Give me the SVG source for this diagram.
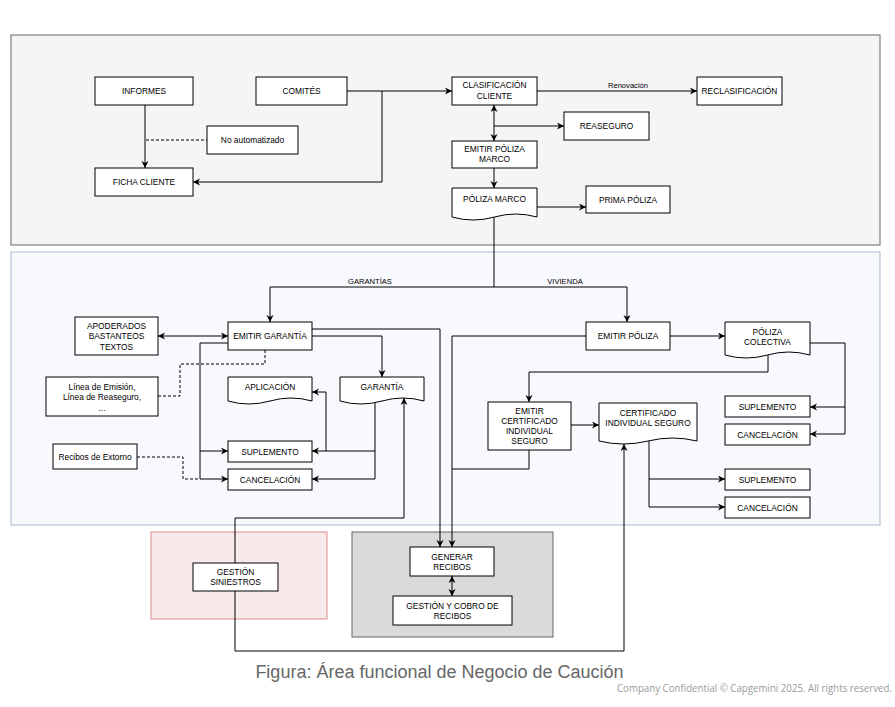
<svg xmlns="http://www.w3.org/2000/svg" width="895" height="707" viewBox="0 0 895 707">
<style>
.n rect,.n path{fill:#fff;stroke:#000;stroke-width:1}
.t{font-family:"Liberation Sans",Arial,Helvetica,sans-serif;font-size:8.4px;text-anchor:middle;fill:#000}
.l{font-family:"Liberation Sans",Arial,Helvetica,sans-serif;font-size:7.6px;text-anchor:middle;fill:#000}
#connectors path{fill:none;stroke:#000;stroke-width:1}
#connectors path.d{stroke-dasharray:3 2}
.a{marker-end:url(#arr)}
.b{marker-start:url(#arr);marker-end:url(#arr)}
</style>
<defs>
<marker id="arr" markerUnits="userSpaceOnUse" markerWidth="8" markerHeight="8" refX="7" refY="3.5" orient="auto-start-reverse">
<path d="M0,0 L7,3.5 L0,7 L2,3.5 Z" fill="#000"/>
</marker>
</defs>
<rect width="895" height="707" fill="#fff"/>
<g id="panels">
<rect x="11" y="35" width="869" height="210" fill="#f5f5f5" stroke="#666"/>
<rect x="11" y="252" width="869" height="273" fill="#f8f9fc" stroke="#a9b8d2"/>
<rect x="151" y="532" width="176" height="87" fill="#f8eaea" stroke="#d98e8e"/>
<rect x="352" y="532" width="201" height="105" fill="#dadada" stroke="#666"/>
</g>
<g id="connectors">
<path class="a" d="M145,105 V168"/>
<path class="d" d="M146,140 H207"/>
<path class="a" d="M347,91 H452"/>
<path class="a" d="M382,91 V182 H193"/>
<path class="a" d="M537,91 H697"/>
<path class="b" d="M494,105 V141"/>
<path class="a" d="M494,126 H564"/>
<path class="a" d="M494,168 V188"/>
<path class="a" d="M537,207 H586"/>
<path class="a" d="M494,217 V287 H270 V322"/>
<path class="a" d="M494,287 H627 V322"/>
<path class="b" d="M158,336 H228"/>
<path class="d" d="M265,350 V364 H180 V396 H158"/>
<path class="a" d="M312,336 H382 V377"/>
<path class="a" d="M312,329 H440 V547"/>
<path class="a" d="M228,343 H200 V479 H228"/>
<path class="a" d="M200,451 H228"/>
<path class="d" d="M137,457 H183 V479 H200"/>
<path class="a" d="M375,402 V479 H312"/>
<path class="a" d="M375,451 H312"/>
<path class="a" d="M326,451 V392 H312"/>
<path class="a" d="M235,563 V518 H404 V398"/>
<path class="a" d="M235,591 V651 H624 V444"/>
<path class="a" d="M670,336 H725"/>
<path class="a" d="M586,336 H452 V547"/>
<path class="a" d="M768,355 V372 H529 V402"/>
<path class="a" d="M810,343 H845 V434 H810"/>
<path class="a" d="M845,407 H810"/>
<path class="a" d="M571,425 H599"/>
<path d="M529,450 V469 H452"/>
<path class="a" d="M649,441 V507 H725"/>
<path class="a" d="M649,479 H725"/>
<path class="b" d="M452,576 V596"/>
<text class="l" x="628" y="87.5">Renovación</text>
<text class="l" x="370" y="283.5">GARANTÍAS</text>
<text class="l" x="565" y="283.5">VIVIENDA</text>
</g>
<g id="informes" class="n"><rect x="95" y="77" width="98" height="28"/><text class="t" x="144" y="94">INFORMES</text></g>
<g id="comites" class="n"><rect x="256" y="77" width="91" height="28"/><text class="t" x="301.5" y="94">COMITÉS</text></g>
<g id="no-automatizado" class="n"><rect x="207" y="126" width="91" height="28"/><text class="t" x="252.5" y="143">No automatizado</text></g>
<g id="ficha-cliente" class="n"><rect x="95" y="168" width="98" height="28"/><text class="t" x="144" y="185">FICHA CLIENTE</text></g>
<g id="clasificacion" class="n"><rect x="452" y="77" width="85" height="28"/><text class="t" x="494.5" y="88">CLASIFICACIÓN</text><text class="t" x="494.5" y="98.5">CLIENTE</text></g>
<g id="reclasificacion" class="n"><rect x="697" y="77" width="85" height="28"/><text class="t" x="739.5" y="94">RECLASIFICACIÓN</text></g>
<g id="reaseguro" class="n"><rect x="564" y="112" width="85" height="28"/><text class="t" x="606.5" y="129">REASEGURO</text></g>
<g id="emitir-poliza-marco" class="n"><rect x="452" y="141" width="85" height="27"/><text class="t" x="494.5" y="151.5">EMITIR PÓLIZA</text><text class="t" x="494.5" y="162">MARCO</text></g>
<g id="poliza-marco" class="n"><path d="M452,188 H537 V217 Q515.75,211 494.5,217 Q473.25,223 452,217 Z"/><text class="t" x="494.5" y="201.5">PÓLIZA MARCO</text></g>
<g id="prima-poliza" class="n"><rect x="586" y="186" width="84" height="27"/><text class="t" x="628" y="203">PRIMA PÓLIZA</text></g>
<g id="apoderados" class="n"><rect x="75" y="317" width="83" height="38"/><text class="t" x="116.5" y="329">APODERADOS</text><text class="t" x="116.5" y="339.3">BASTANTEOS</text><text class="t" x="116.5" y="349.7">TEXTOS</text></g>
<g id="emitir-garantia" class="n"><rect x="228" y="322" width="84" height="28"/><text class="t" x="270" y="339">EMITIR GARANTÍA</text></g>
<g id="lineas" class="n"><rect x="46" y="377" width="112" height="39"/><text class="t" x="102" y="389.7">Línea de Emisión,</text><text class="t" x="102" y="399.7">Línea de Reaseguro,</text><text class="t" x="102" y="411">...</text></g>
<g id="aplicacion" class="n"><path d="M228,377 H312 V401 Q291,395 270,401 Q249,407 228,401 Z"/><text class="t" x="270" y="389.7">APLICACIÓN</text></g>
<g id="garantia" class="n"><path d="M340,377 H424 V401 Q403,395 382,401 Q361,407 340,401 Z"/><text class="t" x="382" y="389.7">GARANTÍA</text></g>
<g id="suplemento-g" class="n"><rect x="228" y="441" width="84" height="21"/><text class="t" x="270" y="454.5">SUPLEMENTO</text></g>
<g id="cancelacion-g" class="n"><rect x="228" y="469" width="84" height="21"/><text class="t" x="270" y="482.5">CANCELACIÓN</text></g>
<g id="recibos-extorno" class="n"><rect x="53" y="444" width="84" height="25"/><text class="t" x="95" y="459.5">Recibos de Extorno</text></g>
<g id="emitir-poliza" class="n"><rect x="586" y="322" width="84" height="28"/><text class="t" x="628" y="339">EMITIR PÓLIZA</text></g>
<g id="poliza-colectiva" class="n"><path d="M725,322 H810 V355 Q788.75,349 767.5,355 Q746.25,361 725,355 Z"/><text class="t" x="767.5" y="334.7">PÓLIZA</text><text class="t" x="767.5" y="344.7">COLECTIVA</text></g>
<g id="suplemento-pc" class="n"><rect x="725" y="396" width="85" height="21"/><text class="t" x="767.5" y="409.5">SUPLEMENTO</text></g>
<g id="cancelacion-pc" class="n"><rect x="725" y="424" width="85" height="21"/><text class="t" x="767.5" y="437.5">CANCELACIÓN</text></g>
<g id="emitir-certificado" class="n"><rect x="488" y="402" width="83" height="48"/><text class="t" x="529.5" y="414">EMITIR</text><text class="t" x="529.5" y="424">CERTIFICADO</text><text class="t" x="529.5" y="434">INDIVIDUAL</text><text class="t" x="529.5" y="444">SEGURO</text></g>
<g id="certificado" class="n"><path d="M599,403 H697 V441 Q672.5,435 648,441 Q623.5,447 599,441 Z"/><text class="t" x="648" y="416">CERTIFICADO</text><text class="t" x="648" y="426">INDIVIDUAL SEGURO</text></g>
<g id="suplemento-c" class="n"><rect x="725" y="469" width="85" height="21"/><text class="t" x="767.5" y="482.5">SUPLEMENTO</text></g>
<g id="cancelacion-c" class="n"><rect x="725" y="497" width="85" height="21"/><text class="t" x="767.5" y="510.5">CANCELACIÓN</text></g>
<g id="gestion-siniestros" class="n"><rect x="193" y="563" width="85" height="28"/><text class="t" x="235.5" y="575">GESTIÓN</text><text class="t" x="235.5" y="585.3">SINIESTROS</text></g>
<g id="generar-recibos" class="n"><rect x="410" y="547" width="84" height="29"/><text class="t" x="452" y="559.5">GENERAR</text><text class="t" x="452" y="570">RECIBOS</text></g>
<g id="gestion-cobro" class="n"><rect x="393" y="596" width="119" height="29"/><text class="t" x="452.5" y="608.7">GESTIÓN Y COBRO DE</text><text class="t" x="452.5" y="619">RECIBOS</text></g>
<text x="439.5" y="678" font-family="Liberation Sans,Arial,sans-serif" font-size="18" fill="#666" text-anchor="middle">Figura: Área funcional de Negocio de Caución</text>
<text x="617" y="691.5" font-family="Open Sans,Noto Sans,sans-serif" font-size="10.5" fill="#9a9a9a" textLength="275" lengthAdjust="spacingAndGlyphs">Company Confidential © Capgemini 2025. All rights reserved.</text>
</svg>
